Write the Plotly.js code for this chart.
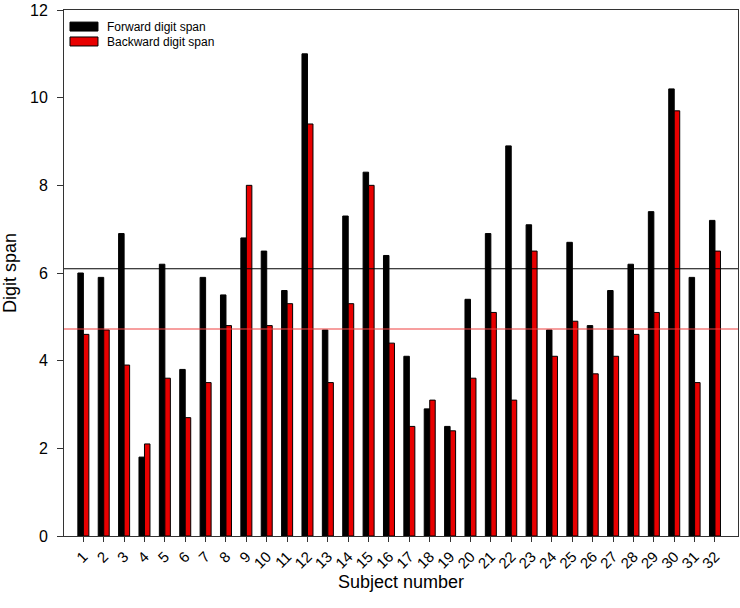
<!DOCTYPE html>
<html>
<head>
<meta charset="utf-8">
<script src="https://cdn.plot.ly/plotly-3.0.1.min.js"></script>
<style>html,body{margin:0;padding:0;background:#fff;}#chart{width:740px;height:608px;}</style>
</head>
<body>
<div id="chart"></div>
<script>
const subjects = [1,2,3,4,5,6,7,8,9,10,11,12,13,14,15,16,17,18,19,20,21,22,23,24,25,26,27,28,29,30,31,32];
const forwardSpan = [6.0,5.9,6.9,1.8,6.2,3.8,5.9,5.5,6.8,6.5,5.6,11.0,4.7,7.3,8.3,6.4,4.1,2.9,2.5,5.4,6.9,8.9,7.1,4.7,6.7,4.8,5.6,6.2,7.4,10.2,5.9,7.2];
const backwardSpan = [4.6,4.7,3.9,2.1,3.6,2.7,3.5,4.8,8.0,4.8,5.3,9.4,3.5,5.3,8.0,4.4,2.5,3.1,2.4,3.6,5.1,3.1,6.5,4.1,4.9,3.7,4.1,4.6,5.1,9.7,3.5,6.5];
const seriesNames = ["Forward digit span", "Backward digit span"];
const tickLabels = subjects.map(String);

const mean = a => a.reduce((s, v) => s + v, 0) / a.length;
const fwdMean = mean(forwardSpan);
const bwdMean = mean(backwardSpan);

const RED = "#e80000";
const FONT = "Liberation Sans, Arial, sans-serif";

const traces = [
  {type: "bar", x: subjects, y: forwardSpan, name: seriesNames[0],
   marker: {color: "#000000", line: {color: "#000000", width: 1}}, showlegend: false, hoverinfo: "x+y"},
  {type: "bar", x: subjects, y: backwardSpan, name: seriesNames[1],
   marker: {color: RED, line: {color: "#000000", width: 1}}, showlegend: false, hoverinfo: "x+y"}
];

const layout = {
  width: 740, height: 608,
  margin: {l: 64, r: 2, t: 10, b: 72},
  paper_bgcolor: "#ffffff", plot_bgcolor: "#ffffff",
  font: {family: FONT, color: "#000000", size: 15},
  barmode: "group", bargap: 0.46, bargroupgap: 0,
  showlegend: false,
  xaxis: {
    range: [0.05, 33.13], tickmode: "array", tickvals: subjects, ticktext: tickLabels,
    tickangle: -45, ticks: "outside", ticklen: 5, tickcolor: "#333333", tickwidth: 1,
    showline: true, linecolor: "#333333", linewidth: 1, mirror: true,
    showgrid: false, zeroline: false,
    tickfont: {family: FONT, size: 15, color: "#000000"},
    title: {text: "Subject number", font: {family: FONT, size: 18, color: "#000000"}, standoff: 3}
  },
  yaxis: {
    range: [0, 12], dtick: 2, tick0: 0, ticks: "outside", ticklen: 6, tickcolor: "#333333", tickwidth: 1,
    showline: true, linecolor: "#333333", linewidth: 1, mirror: true,
    showgrid: false, zeroline: false,
    tickfont: {family: FONT, size: 16, color: "#000000"},
    ticklabelstandoff: 6,
    title: {text: "Digit span", font: {family: FONT, size: 18, color: "#000000"}, standoff: 12}
  },
  shapes: [
    {type: "line", xref: "paper", yref: "y", x0: 0, x1: 1, y0: fwdMean, y1: fwdMean,
     line: {color: "#000000", width: 1.2}},
    {type: "line", xref: "paper", yref: "y", x0: 0, x1: 1, y0: bwdMean, y1: bwdMean,
     line: {color: "#f04040", width: 1.2}},
    {type: "rect", xref: "paper", yref: "paper", x0: 0.0089, x1: 0.0504, y0: 0.960, y1: 0.977,
     fillcolor: "#000000", line: {color: "#000000", width: 1}},
    {type: "rect", xref: "paper", yref: "paper", x0: 0.0089, x1: 0.0504, y0: 0.9316, y1: 0.9487,
     fillcolor: RED, line: {color: "#000000", width: 1}}
  ],
  annotations: [
    {xref: "paper", yref: "paper", x: 0.0608, y: 0.9686, xanchor: "left", yanchor: "middle",
     text: seriesNames[0], showarrow: false, font: {family: FONT, size: 12, color: "#000000"}},
    {xref: "paper", yref: "paper", x: 0.0608, y: 0.940, xanchor: "left", yanchor: "middle",
     text: seriesNames[1], showarrow: false, font: {family: FONT, size: 12, color: "#000000"}}
  ]
};

Plotly.newPlot("chart", traces, layout, {displayModeBar: false, staticPlot: true});
</script>
</body>
</html>
